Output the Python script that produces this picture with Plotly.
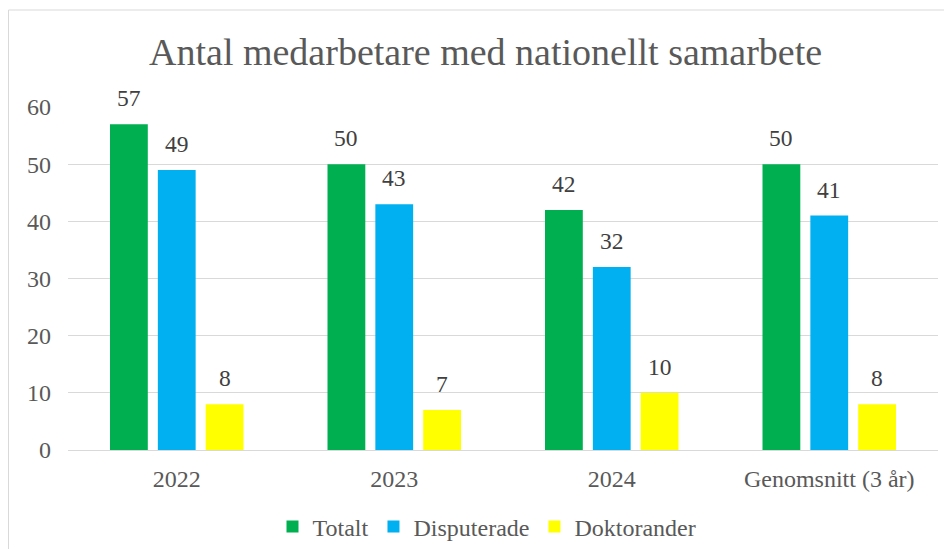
import plotly.graph_objects as go

categories = ["2022", "2023", "2024", "Genomsnitt (3 år)"]
totalt = [57, 50, 42, 50]
disputerade = [49, 43, 32, 41]
doktorander = [8, 7, 10, 8]
series_names = ["Totalt", "Disputerade", "Doktorander"]
colors = ["#00B050", "#00B0F0", "#FFFF00"]

OFF = 8  # page body margin
W, H = 936, 541
ML, MR, MT, MB = 60, 6, 99, 99

fig = go.Figure()
all_vals = [totalt, disputerade, doktorander]
for name, vals, col in zip(series_names, all_vals, colors):
    fig.add_trace(go.Bar(
        x=categories, y=vals, name=name, marker=dict(color=col, line=dict(width=0)),
    ))

pw = W - ML - MR
ph = H - MT - MB
def px2x(p):
    return (p - OFF - ML) / pw
def py2y(p):
    return (H - MB - (p - OFF)) / ph

SLOT = 48  # px between bar centers within a group
annotations = []
for i, vals in enumerate(all_vals):
    for j, v in enumerate(vals):
        annotations.append(dict(
            x=j, y=v, xref="x", yref="y", text=str(v), showarrow=False,
            xshift=(i - 1) * SLOT, yshift=26, yanchor="middle", xanchor="center",
            font=dict(size=23.5, color="#404040", family="Liberation Serif"),
        ))

fig.update_layout(
    width=W, height=H,
    margin=dict(l=ML, r=MR, t=MT, b=MB, autoexpand=False),
    paper_bgcolor="white", plot_bgcolor="white",
    font=dict(family="Liberation Serif", color="#595959", size=24),
    title=dict(text="Antal medarbetare med nationellt samarbete", x=0.48, xref="paper", xanchor="center",
               y=1 - (52 - OFF) / H, yanchor="middle", font=dict(size=38, color="#595959")),
    barmode="group", bargap=0.34, bargroupgap=0.21,
    xaxis=dict(type="category", showgrid=False, showline=True, linecolor="#d9d9d9", linewidth=1,
               ticks="", ticklabelstandoff=7, automargin=False, tickfont=dict(size=24, color="#595959")),
    yaxis=dict(range=[0, 60], dtick=10, showgrid=True, gridcolor="#d9d9d9", gridwidth=1,
               zeroline=False, showline=False, ticks="", ticklabelstandoff=16, automargin=False,
               tickfont=dict(size=24, color="#595959")),
    legend=dict(orientation="h", x=px2x(487), xanchor="center", y=py2y(527), yanchor="middle",
                font=dict(size=24, color="#595959"), itemwidth=30, traceorder="normal"),
    showlegend=True,
    annotations=annotations,
    shapes=[
        dict(type="line", xref="paper", yref="paper", x0=px2x(8.5), x1=px2x(8.5), y0=py2y(10), y1=py2y(600),
             line=dict(color="#d9d9d9", width=1)),
        dict(type="line", xref="paper", yref="paper", x0=px2x(8.5), x1=px2x(1000), y0=py2y(10), y1=py2y(10),
             line=dict(color="#d9d9d9", width=1)),
    ],
)

fig.write_html("out.html")
